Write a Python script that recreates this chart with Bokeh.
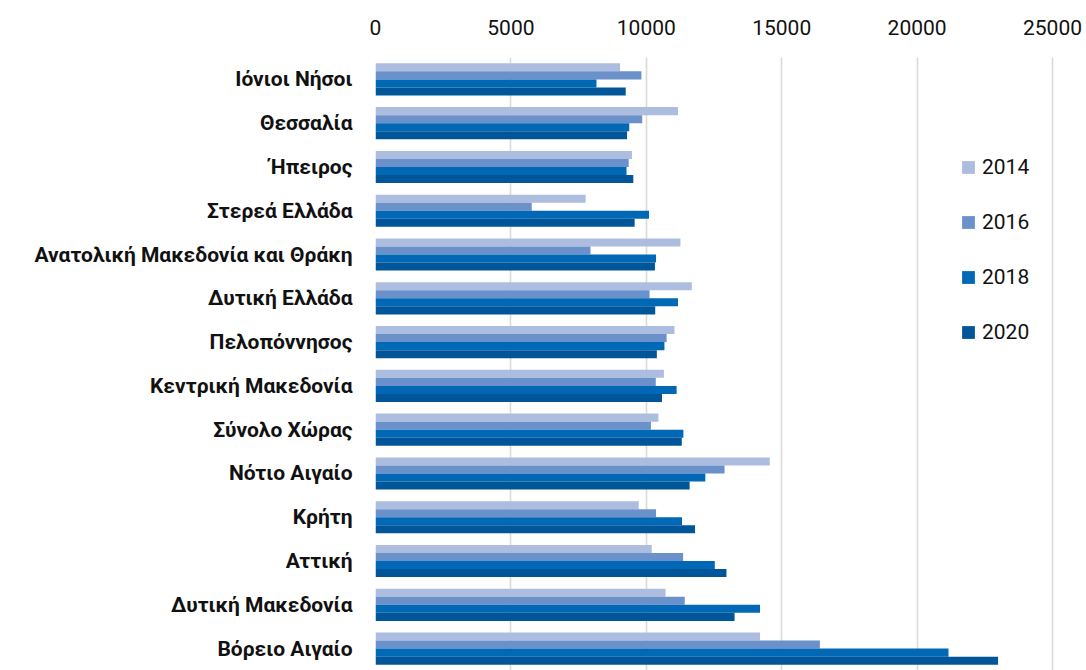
from bokeh.plotting import figure
from bokeh.models import FactorRange, Range1d, FixedTicker, NumeralTickFormatter, ColumnDataSource
from bokeh.transform import dodge
from bokeh.embed import file_html
from bokeh.resources import INLINE

categories = [
    "Ιόνιοι Νήσοι", "Θεσσαλία", "Ήπειρος", "Στερεά Ελλάδα",
    "Ανατολική Μακεδονία και Θράκη", "Δυτική Ελλάδα", "Πελοπόννησος",
    "Κεντρική Μακεδονία", "Σύνολο Χώρας", "Νότιο Αιγαίο", "Κρήτη",
    "Αττική", "Δυτική Μακεδονία", "Βόρειο Αιγαίο",
]
years = ["2014", "2016", "2018", "2020"]
v2014 = [9030, 11170, 9470, 7760, 11260, 11680, 11040, 10650, 10450, 14560, 9720, 10200, 10710, 14200]
v2016 = [9820, 9850, 9350, 5770, 7940, 10120, 10750, 10350, 10170, 12890, 10360, 11360, 11420, 16410]
v2018 = [8160, 9370, 9270, 10100, 10360, 11170, 10670, 11120, 11370, 12180, 11320, 12530, 14200, 21160]
v2020 = [9240, 9290, 9520, 9570, 10320, 10330, 10390, 10580, 11310, 11600, 11800, 12960, 13260, 22990]
ticks = [0, 5000, 10000, 15000, 20000, 25000]

colors = ["#adbddf", "#6b91cb", "#0068b4", "#005698"]
offsets = [0.275, 0.0917, -0.0917, -0.275]

source = ColumnDataSource(dict(cat=categories, y2014=v2014, y2016=v2016, y2018=v2018, y2020=v2020))

p = figure(
    y_range=FactorRange(factors=categories[::-1], range_padding=0),
    x_range=Range1d(0, 26256),
    width=1086, height=670,
    x_axis_location="above",
    output_backend="svg", toolbar_location=None,
    min_border_left=375, min_border_top=57, min_border_right=0, min_border_bottom=0,
)

for yr, col, off in zip(years, colors, offsets):
    p.hbar(y=dodge("cat", off, range=p.y_range), right="y" + yr, left=0, height=0.1834,
           source=source, fill_color=col, line_color=None, legend_label=yr)

p.outline_line_color = None
p.ygrid.visible = False
p.xgrid.grid_line_color = "#d9d9d9"
p.xgrid.grid_line_width = 1.6

xa = p.xaxis[0]
xa.ticker = FixedTicker(ticks=ticks)
xa.formatter = NumeralTickFormatter(format="0")
xa.axis_line_color = None
xa.major_tick_line_color = None
xa.minor_tick_line_color = None
xa.major_tick_out = 0
xa.major_label_standoff = 23
xa.major_label_text_font = "Roboto"
xa.major_label_text_font_size = "21px"
xa.major_label_text_color = "#111111"

ya = p.yaxis[0]
ya.axis_line_color = None
ya.major_tick_line_color = None
ya.minor_tick_line_color = None
ya.major_tick_out = 0
ya.major_label_standoff = 23
ya.major_label_text_font = "Roboto"
ya.major_label_text_font_style = "bold"
ya.major_label_text_font_size = "21px"
ya.major_label_text_color = "#111111"

lg = p.legend[0]
lg.location = (585, 326)
lg.margin = 0
lg.padding = 0
lg.border_line_color = None
lg.background_fill_alpha = 0
lg.glyph_width = 16
lg.glyph_height = 16
lg.label_height = 20
lg.spacing = 31
lg.label_standoff = 6
lg.label_text_font = "Roboto"
lg.label_text_font_size = "21px"
lg.label_text_color = "#111111"

open("out.html", "w").write(file_html(p, INLINE))
